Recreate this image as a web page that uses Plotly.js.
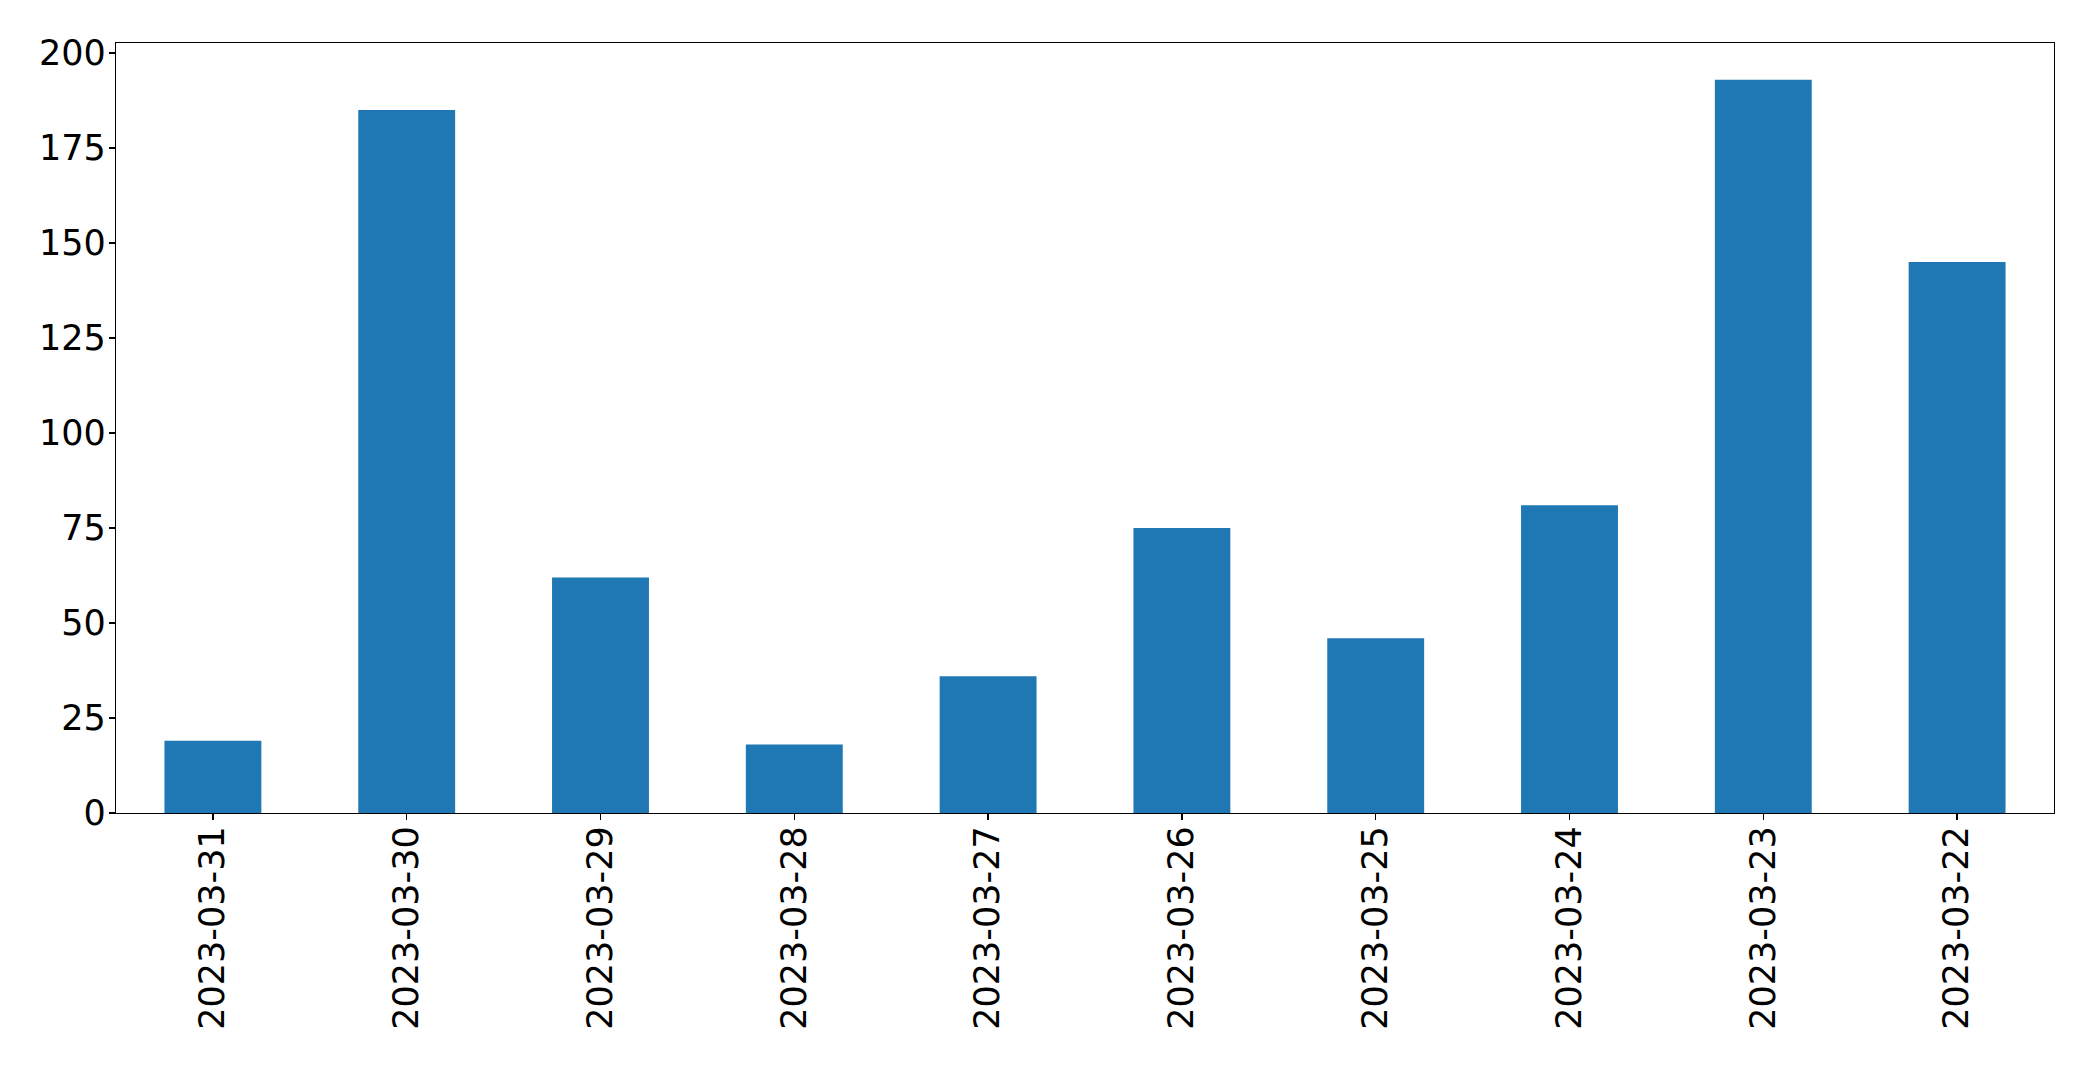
<!DOCTYPE html>
<html>
<head>
<meta charset="utf-8">
<script src="https://cdn.plot.ly/plotly-3.0.1.min.js"></script>
<style>html,body{margin:0;padding:0;background:#fff;}#chart{width:2093px;height:1065px;}</style>
</head>
<body>
<div id="chart"></div>
<script>
const dates = ["2023-03-31","2023-03-30","2023-03-29","2023-03-28","2023-03-27","2023-03-26","2023-03-25","2023-03-24","2023-03-23","2023-03-22"];
const counts = [19, 185, 62, 18, 36, 75, 46, 81, 193, 145];
const yTicks = [0, 25, 50, 75, 100, 125, 150, 175, 200];

const trace = {
  type: 'bar',
  x: dates,
  y: counts,
  marker: {color: '#1f77b4', line: {width: 0}},
  hoverinfo: 'x+y'
};

const layout = {
  width: 2093,
  height: 1065,
  margin: {l: 116, r: 39, t: 43, b: 252, pad: 0},
  paper_bgcolor: '#ffffff',
  plot_bgcolor: '#ffffff',
  font: {family: 'DejaVu Sans', size: 35, color: '#000000'},
  bargap: 0.5,
  showlegend: false,
  xaxis: {
    type: 'category',
    range: [-0.5, 9.5],
    tickangle: -90,
    ticks: 'outside',
    ticklen: 6,
    tickwidth: 1.3,
    tickcolor: '#000',
    ticklabelstandoff: -8,
    showline: true,
    linecolor: '#000',
    linewidth: 1.3,
    mirror: true,
    showgrid: false,
    zeroline: false,
    tickfont: {family: 'DejaVu Sans', size: 35, color: '#000'}
  },
  yaxis: {
    range: [0, 202.65],
    tickmode: 'array',
    tickvals: yTicks,
    ticktext: yTicks.map(String),
    ticks: 'outside',
    ticklen: 6,
    tickwidth: 1.3,
    tickcolor: '#000',
    ticklabelstandoff: -4,
    showline: true,
    linecolor: '#000',
    linewidth: 1.3,
    mirror: true,
    showgrid: false,
    zeroline: false,
    tickfont: {family: 'DejaVu Sans', size: 35, color: '#000'}
  }
};

Plotly.newPlot('chart', [trace], layout, {displayModeBar: false, staticPlot: true});
</script>
</body>
</html>
